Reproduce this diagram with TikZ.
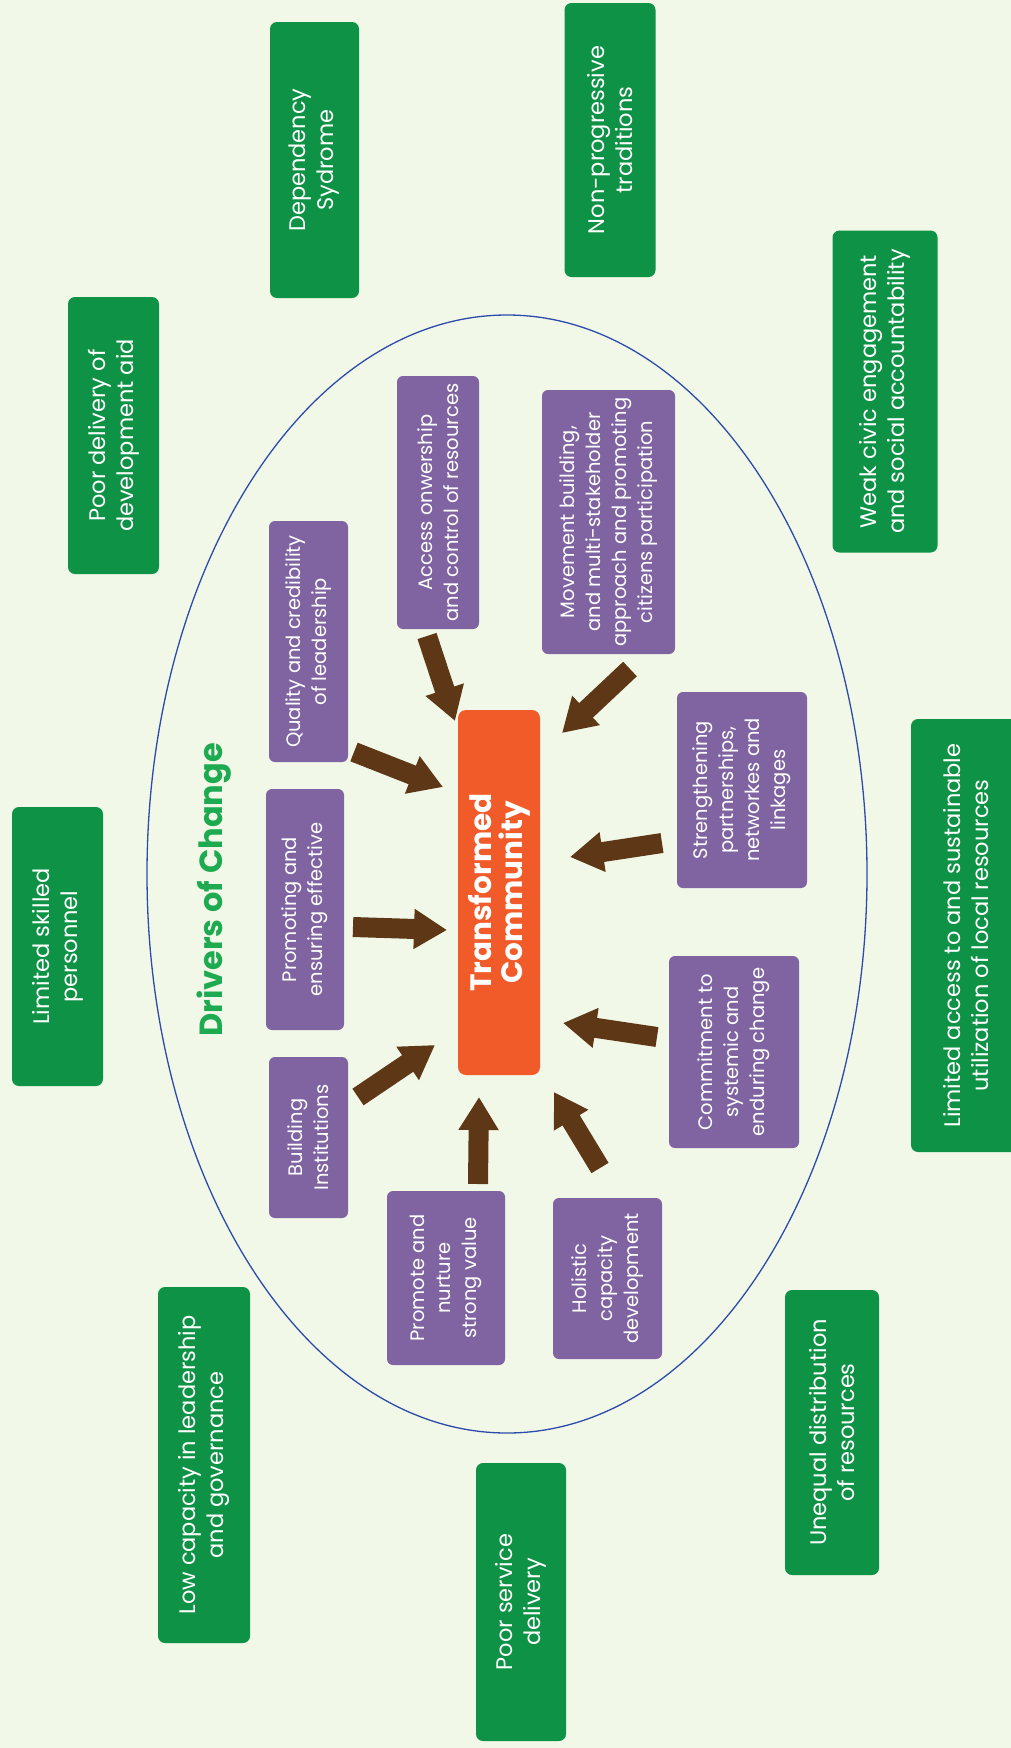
\documentclass[tikz,border=0pt]{standalone}
\usepackage{fontspec}
\setmainfont{Poppins}
\usetikzlibrary{arrows.meta}
\definecolor{bgc}{RGB}{241,248,232}
\definecolor{gboxc}{RGB}{14,146,69}
\definecolor{pboxc}{RGB}{128,100,162}
\definecolor{orc}{RGB}{241,90,41}
\definecolor{brc}{RGB}{94,56,22}
\definecolor{elc}{RGB}{45,75,170}
\definecolor{drc}{RGB}{30,170,80}
\tikzset{
  gbox/.style={fill=gboxc, rounded corners=7pt, rotate=90, text=white, align=center, inner sep=0pt,
    font=\fontsize{22.5}{28}\selectfont},
  pbox/.style={fill=pboxc, rounded corners=6pt, rotate=90, text=white, align=center, inner sep=0pt,
    font=\fontsize{19.5}{26}\selectfont},
  obox/.style={fill=orc, rounded corners=8pt, rotate=90, text=white, align=center, inner sep=0pt,
    font=\fontsize{29.5}{31}\selectfont\bfseries},
  barrow/.style={draw=brc, line width=20pt, -{Triangle[width=38pt,length=33pt]}, brc},
}
\begin{document}
\begin{tikzpicture}[x=1pt,y=-1pt]
\fill[bgc] (0,0) rectangle (1011,1748);
\useasboundingbox (0,0) rectangle (1011,1748);
% ellipse
\draw[elc, line width=1.3pt] (507,874) ellipse [x radius=360, y radius=559];
% green boxes
\node[gbox, minimum width=276, minimum height=89] (dep) at (314.5,160) {Dependency\\Sydrome};
\node[gbox, minimum width=274, minimum height=91] (nonprog) at (610,140) {Non-progressive\\traditions};
\node[gbox, minimum width=322, minimum height=105] (weak) at (885,391.5) {Weak civic engagement\\and social accountability};
\node[gbox, minimum width=277, minimum height=91] (poordev) at (113.5,435.5) {Poor delivery of\\development aid};
\node[gbox, minimum width=279, minimum height=91] (limskill) at (57.5,946.5) {Limited skilled\\personnel};
\node[gbox, minimum width=433, minimum height=110] (limacc) at (966,935.5) {Limited access to and sustainable\\utilization of local resources};
\node[gbox, minimum width=356, minimum height=92] (lowcap) at (204,1465) {Low capacity in leadership\\and governance};
\node[gbox, minimum width=278, minimum height=90] (poorserv) at (521,1602) {Poor service\\delivery};
\node[gbox, minimum width=285, minimum height=94] (unequal) at (832,1432.5) {Unequal distribution\\of resources};
% purple boxes
\node[pbox, minimum width=241, minimum height=79] (quality) at (308.5,641.5) {Quality and credibility\\of leadership};
\node[pbox, minimum width=253, minimum height=82] (access) at (438,502.5) {Access onwership\\and control of resources};
\node[pbox, minimum width=264, minimum height=133] (movement) at (608.5,522) {Movement building,\\and multi-stakeholder\\approach and promoting\\citizens participation};
\node[pbox, minimum width=196, minimum height=130] (strength) at (742,790) {Strengthening\\partnerships,\\networkes and\\linkages};
\node[pbox, minimum width=241, minimum height=78] (promoting) at (305,909.5) {Promoting and\\ensuring effective};
\node[pbox, minimum width=192, minimum height=130] (commit) at (734,1052) {Commitment to\\systemic and\\enduring change};
\node[pbox, minimum width=161, minimum height=79] (building) at (308.5,1137.5) {Building\\Institutions};
\node[pbox, minimum width=174, minimum height=118] (nurture) at (446,1278) {Promote and\\nurture\\strong value};
\node[pbox, minimum width=161, minimum height=109] (holistic) at (607.5,1278.5) {Holistic\\capacity\\development};
% centre
\node[obox, minimum width=365, minimum height=82] (tc) at (499,892.5) {Transformed\\Community};
% title
\node[rotate=90, text=drc, font=\fontsize{32}{36}\selectfont\bfseries, inner sep=0pt] (title) at (214,890) {Drivers of Change};
% arrow end points
\coordinate (qS) at (354,752);  \coordinate (qE) at (443,787);
\coordinate (aS) at (427,636);  \coordinate (aE) at (455,721);
\coordinate (mS) at (630,669);  \coordinate (mE) at (562,733);
\coordinate (sS) at (662,843);  \coordinate (sE) at (570,857);
\coordinate (cS) at (657,1037); \coordinate (cE) at (563,1023);
\coordinate (hS) at (600,1168); \coordinate (hE) at (554,1092);
\coordinate (nS) at (478,1184); \coordinate (nE) at (479,1097);
\coordinate (bS) at (358,1097); \coordinate (bE) at (435,1045);
\coordinate (pS) at (353,927);  \coordinate (pE) at (447,930);
% arrows
\draw[barrow] (qS) -- (qE);
\draw[barrow] (aS) -- (aE);
\draw[barrow] (mS) -- (mE);
\draw[barrow] (sS) -- (sE);
\draw[barrow] (cS) -- (cE);
\draw[barrow] (hS) -- (hE);
\draw[barrow] (nS) -- (nE);
\draw[barrow] (bS) -- (bE);
\draw[barrow] (pS) -- (pE);
\end{tikzpicture}
\end{document}
